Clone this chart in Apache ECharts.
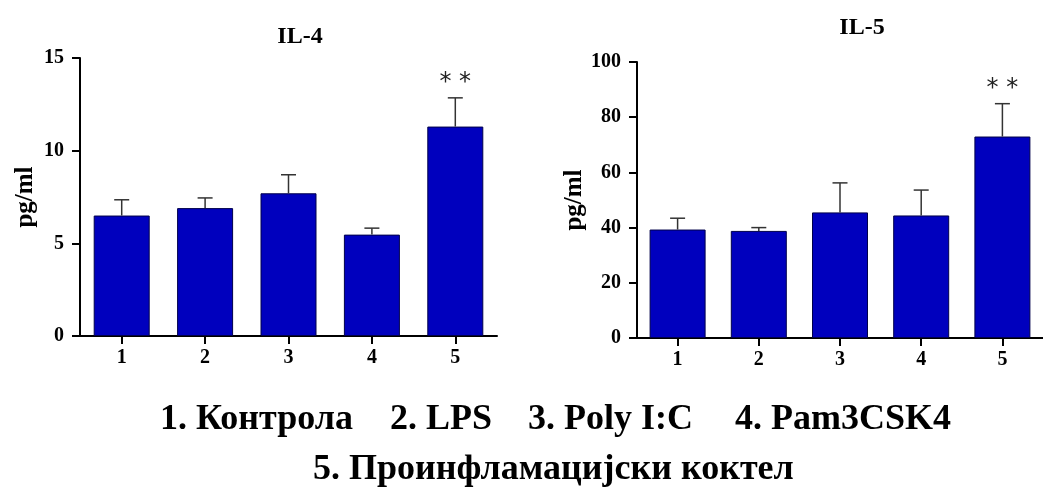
<!DOCTYPE html>
<html>
<head>
<meta charset="utf-8">
<script src="https://cdn.jsdelivr.net/npm/echarts@6/dist/echarts.min.js"></script>
<style>
  html, body { margin: 0; padding: 0; background: #fff; }
  #main { width: 1043px; height: 490px; }
</style>
</head>
<body>
<div id="main"></div>
<script>
// data
var categories = ['1', '2', '3', '4', '5'];
var il4Mean = [6.5, 6.9, 7.7, 5.47, 11.3];
var il4Sem = [0.85, 0.55, 1.0, 0.35, 1.55];
var il5Mean = [39.3, 38.8, 45.5, 44.4, 73.0];
var il5Sem = [4.1, 1.2, 10.7, 9.2, 11.9];
var signif = ['', '', '', '', '* *'];
var legendParts = ['1. Контрола', '2. LPS', '3. Poly I:C', '4. Pam3CSK4'];
var legendLine2 = '5. Проинфламацијски коктел';

var serif = 'Liberation Serif, Times New Roman, serif';
var chartDom = document.getElementById('main');
var myChart = echarts.init(chartDom);

function errRender(params, api) {
    var mean = api.value(1);
    var top = mean + api.value(2);
    var p0 = api.coord([api.value(0), mean]);
    var p1 = api.coord([api.value(0), top]);
    var half = 7.5;
    var children = [
        { type: 'line', shape: { x1: p0[0], y1: p0[1], x2: p1[0], y2: p1[1] },
          style: { stroke: '#333', lineWidth: 1.5 } },
        { type: 'line', shape: { x1: p1[0] - half, y1: p1[1], x2: p1[0] + half, y2: p1[1] },
          style: { stroke: '#333', lineWidth: 1.5 } }
    ];
    var mark = signif[params.dataIndex];
    if (mark) {
        children.push({ type: 'text', x: p1[0], y: p1[1] - 15,
            style: { text: mark, fill: '#222', font: '24px DejaVu Sans', align: 'center', verticalAlign: 'middle' } });
    }
    return { type: 'group', children: children };
}

function errData(mean, sem) {
    return mean.map(function (m, i) { return [i, m, sem[i]]; });
}

function yAxisCfg(gi, max, interval, gap) {
    return {
        type: 'value', gridIndex: gi, min: 0, max: max, interval: interval,
        name: 'pg/ml', nameLocation: 'middle', nameGap: gap,
        nameTextStyle: { fontFamily: serif, fontWeight: 'bold', fontSize: 25, color: '#000' },
        axisLine: { show: true, lineStyle: { color: '#000', width: 2 } },
        axisTick: { show: true, length: 8, lineStyle: { color: '#000', width: 2 } },
        axisLabel: { color: '#000', fontFamily: serif, fontWeight: 'bold', fontSize: 20, margin: 16 },
        splitLine: { show: false }
    };
}

function xAxisCfg(gi) {
    return {
        type: 'category', gridIndex: gi, data: categories,
        axisLine: { show: true, lineStyle: { color: '#000', width: 2 } },
        axisTick: { show: true, alignWithLabel: true, length: 8, lineStyle: { color: '#000', width: 2 } },
        axisLabel: { color: '#000', fontFamily: serif, fontWeight: 'bold', fontSize: 20, margin: 12 }
    };
}

var barStyle = { color: '#0000BE', borderColor: '#00004a', borderWidth: 1 };

var option = {
    backgroundColor: '#fff',
    animation: false,
    title: [
        { text: 'IL-4', left: 295, top: 20, textAlign: 'center',
          textStyle: { fontFamily: serif, fontWeight: 'bold', fontSize: 24, color: '#000' } },
        { text: 'IL-5', left: 857, top: 11, textAlign: 'center',
          textStyle: { fontFamily: serif, fontWeight: 'bold', fontSize: 24, color: '#000' } }
    ],
    grid: [
        { left: 80, top: 58, width: 417, height: 278 },
        { left: 637, top: 62, width: 415, height: 276 }
    ],
    xAxis: [xAxisCfg(0), xAxisCfg(1)],
    yAxis: [yAxisCfg(0, 15, 5, 42), yAxisCfg(1, 100, 20, 49)],
    series: [
        { type: 'bar', xAxisIndex: 0, yAxisIndex: 0, data: il4Mean, barWidth: 56, itemStyle: barStyle },
        { type: 'custom', xAxisIndex: 0, yAxisIndex: 0, renderItem: errRender,
          data: errData(il4Mean, il4Sem), encode: { x: 0, y: [1, 2] }, z: 3 },
        { type: 'bar', xAxisIndex: 1, yAxisIndex: 1, data: il5Mean, barWidth: 56, itemStyle: barStyle },
        { type: 'custom', xAxisIndex: 1, yAxisIndex: 1, renderItem: errRender,
          data: errData(il5Mean, il5Sem), encode: { x: 0, y: [1, 2] }, z: 3 }
    ],
    graphic: [
        { type: 'text', left: 160, top: 402, style: { text: legendParts[0], font: 'bold 36px ' + serif, fill: '#000' } },
        { type: 'text', left: 390, top: 402, style: { text: legendParts[1], font: 'bold 36px ' + serif, fill: '#000' } },
        { type: 'text', left: 528, top: 402, style: { text: legendParts[2], font: 'bold 36px ' + serif, fill: '#000' } },
        { type: 'text', left: 735, top: 402, style: { text: legendParts[3], font: 'bold 36px ' + serif, fill: '#000' } },
        { type: 'text', left: 313, top: 452, style: { text: legendLine2, font: 'bold 36px ' + serif, fill: '#000' } }
    ]
};

option && myChart.setOption(option);
window.addEventListener('resize', function () {
    myChart.resize();
});
</script>
</body>
</html>
